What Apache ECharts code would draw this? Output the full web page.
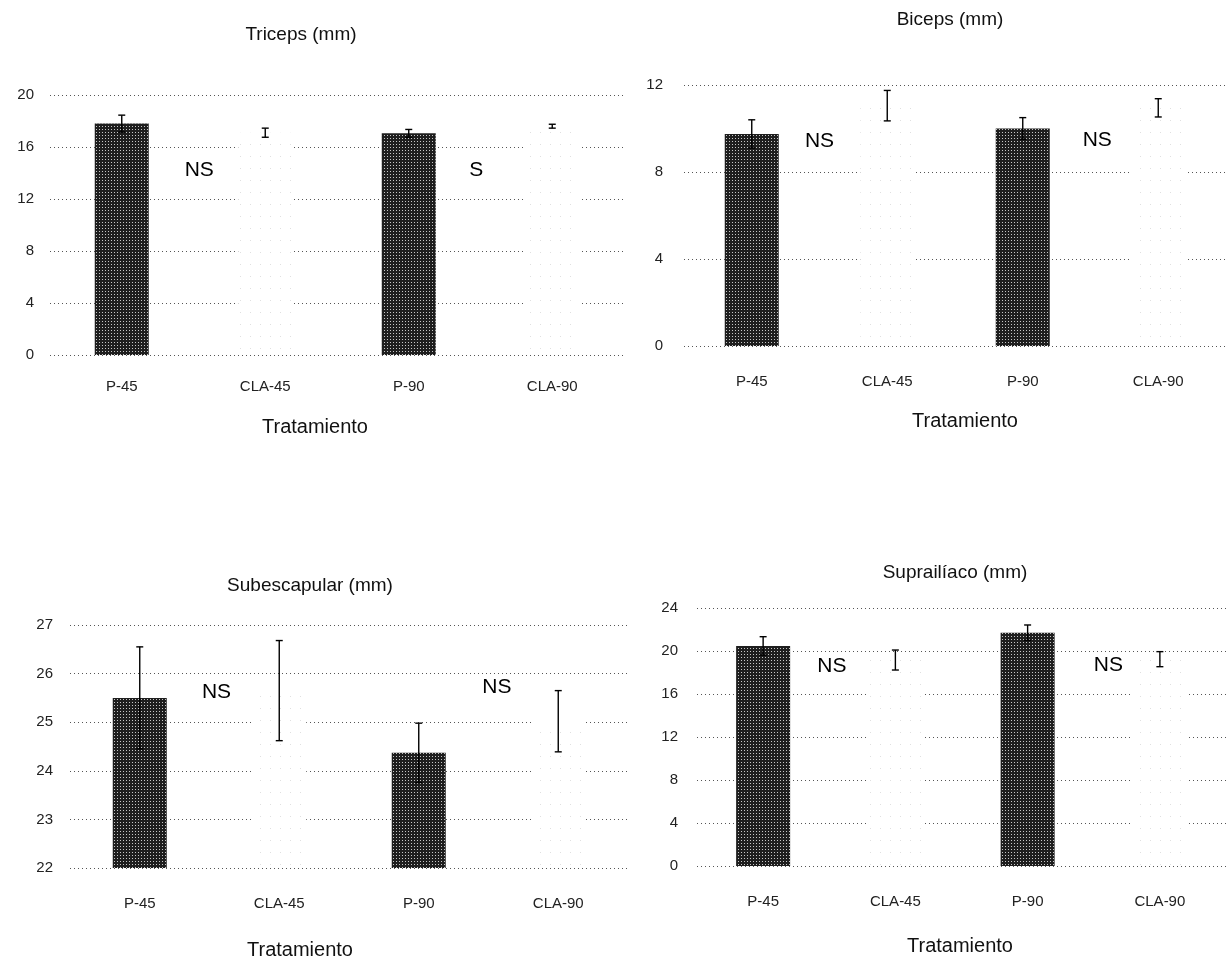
<!DOCTYPE html>
<html>
<head>
<meta charset="utf-8">
<script src="https://cdn.jsdelivr.net/npm/echarts@6/dist/echarts.min.js"></script>
<style>
html,body{margin:0;padding:0;background:#fff;}
#chart{width:1226px;height:963px;}
</style>
</head>
<body>
<div id="chart"></div>
<script>
// ---------- data ----------
const categories = ['P-45', 'CLA-45', 'P-90', 'CLA-90'];
const panelTitles = ['Triceps (mm)', 'Biceps (mm)', 'Subescapular (mm)', 'Suprailíaco (mm)'];
const xAxisTitle = 'Tratamiento';

const tricepsMean = [17.8, 17.1, 17.05, 17.6];
const tricepsErr = [0.65, 0.35, 0.3, 0.15];
const bicepsMean = [9.75, 11.05, 10.0, 10.95];
const bicepsErr = [0.65, 0.7, 0.5, 0.42];
const subescapularMean = [25.5, 25.65, 24.37, 25.02];
const subescapularErr = [1.05, 1.03, 0.61, 0.63];
const suprailiacoMean = [20.47, 19.16, 21.7, 19.24];
const suprailiacoErr = [0.86, 0.93, 0.72, 0.7];

// y-axis ticks [min, max, interval]
const tricepsTicks = [0, 20, 4];
const bicepsTicks = [0, 12, 4];
const subescapularTicks = [22, 27, 1];
const suprailiacoTicks = [0, 24, 4];

// significance labels
const tricepsSig = ['NS', 'S'];
const bicepsSig = ['NS', 'NS'];
const subescapularSig = ['NS', 'NS'];
const suprailiacoSig = ['NS', 'NS'];

// ---------- layout (pixels / positions, not data) ----------
const panels = [
  { mean: tricepsMean, err: tricepsErr, ticks: tricepsTicks, sig: tricepsSig,
    grid: { left: 50, top: 95, width: 574, height: 260 }, labelMargin: 16, xLabelMargin: 24,
    title: [296, 20], xname: [310, 412], sigPos: [[1.04, 14.2], [2.97, 14.2]] },
  { mean: bicepsMean, err: bicepsErr, ticks: bicepsTicks, sig: bicepsSig,
    grid: { left: 684, top: 85, width: 554, height: 261 }, labelMargin: 21, xLabelMargin: 28,
    title: [945, 5], xname: [960, 406], sigPos: [[1.0, 9.4], [3.05, 9.45]] },
  { mean: subescapularMean, err: subescapularErr, ticks: subescapularTicks, sig: subescapularSig,
    grid: { left: 70, top: 625, width: 558, height: 243 }, labelMargin: 17, xLabelMargin: 28,
    title: [305, 571], xname: [295, 935], sigPos: [[1.05, 25.61], [3.06, 25.72]] },
  { mean: suprailiacoMean, err: suprailiacoErr, ticks: suprailiacoTicks, sig: suprailiacoSig,
    grid: { left: 697, top: 608, width: 542, height: 258 }, labelMargin: 19, xLabelMargin: 28,
    title: [950, 558], xname: [955, 931], sigPos: [[1.02, 18.54], [3.11, 18.7]] }
];

const FONT = '"Liberation Sans", Arial, sans-serif';

const darkStyle = {
  color: '#1e1e1e',
  decal: { symbol: 'rect', symbolSize: 1, dashArrayX: [1, 2], dashArrayY: [1, 2],
           color: 'rgba(255,255,255,0.75)', rotation: 0 }
};
const lightStyle = {
  color: '#ffffff',
  decal: { symbol: 'rect', symbolSize: 1, dashArrayX: [1, 9], dashArrayY: [1, 11],
           color: 'rgba(0,0,0,0.12)', rotation: 0 }
};

function errRender(params, api) {
  const i = api.value(0), m = api.value(1), e = api.value(2);
  const top = api.coord([i, m + e]);
  const bot = api.coord([i, m - e]);
  const cap = 3.5;
  const st = { stroke: '#000', lineWidth: 1.4 };
  return {
    type: 'group',
    children: [
      { type: 'line', shape: { x1: top[0], y1: top[1], x2: bot[0], y2: bot[1] }, style: st },
      { type: 'line', shape: { x1: top[0] - cap, y1: top[1], x2: top[0] + cap, y2: top[1] }, style: st },
      { type: 'line', shape: { x1: bot[0] - cap, y1: bot[1], x2: bot[0] + cap, y2: bot[1] }, style: st }
    ]
  };
}

const option = {
  backgroundColor: '#fff',
  animation: false,
  title: [],
  grid: [],
  xAxis: [],
  yAxis: [],
  series: []
};

panels.forEach((p, k) => {
  option.title.push({
    text: panelTitles[k], left: p.title[0], top: p.title[1], textAlign: 'center',
    textStyle: { fontFamily: FONT, fontSize: 19, fontWeight: 'normal', color: '#111' }
  });
  option.title.push({
    text: xAxisTitle, left: p.xname[0], top: p.xname[1], textAlign: 'center',
    textStyle: { fontFamily: FONT, fontSize: 20, fontWeight: 'normal', color: '#111' }
  });
  option.grid.push(Object.assign({ containLabel: false }, p.grid));
});

panels.forEach((p, k) => {
  option.xAxis.push({
    type: 'category', gridIndex: k, data: categories,
    axisLine: { show: false }, axisTick: { show: false },
    axisLabel: { margin: p.xLabelMargin, fontFamily: FONT, fontSize: 15, color: '#222' },
    splitLine: { show: false }
  });
});
panels.forEach((p, k) => {
  option.xAxis.push({ type: 'value', gridIndex: k, min: 0, max: 4, show: false, splitLine: { show: false } });
});
panels.forEach((p, k) => {
  option.yAxis.push({
    type: 'value', gridIndex: k, min: p.ticks[0], max: p.ticks[1], interval: p.ticks[2],
    axisLine: { show: false }, axisTick: { show: false },
    axisLabel: { margin: p.labelMargin, fontFamily: FONT, fontSize: 15, color: '#222' },
    splitLine: { show: true, lineStyle: { color: '#555', width: 1, type: [1, 3] } }
  });
});

panels.forEach((p, k) => {
  option.series.push({
    type: 'bar', xAxisIndex: k, yAxisIndex: k, barWidth: 54, z: 2,
    data: categories.map((c, i) => ({
      value: p.mean[i],
      itemStyle: c.indexOf('CLA') === 0 ? lightStyle : darkStyle
    }))
  });
  option.series.push({
    type: 'custom', xAxisIndex: k, yAxisIndex: k, z: 5,
    renderItem: errRender,
    encode: { x: 0, y: 1 },
    data: categories.map((c, i) => [i, p.mean[i], p.err[i]])
  });
  option.series.push({
    type: 'scatter', xAxisIndex: k + 4, yAxisIndex: k, symbolSize: 0, z: 6,
    itemStyle: { opacity: 1 },
    data: p.sig.map((s, j) => ({ name: s, value: p.sigPos[j] })),
    label: { show: true, position: 'inside', formatter: '{b}', opacity: 1,
             fontFamily: FONT, fontSize: 21, color: '#000' }
  });
});

const chart = echarts.init(document.getElementById('chart'), null, { renderer: 'canvas' });
chart.setOption(option);
</script>
</body>
</html>
